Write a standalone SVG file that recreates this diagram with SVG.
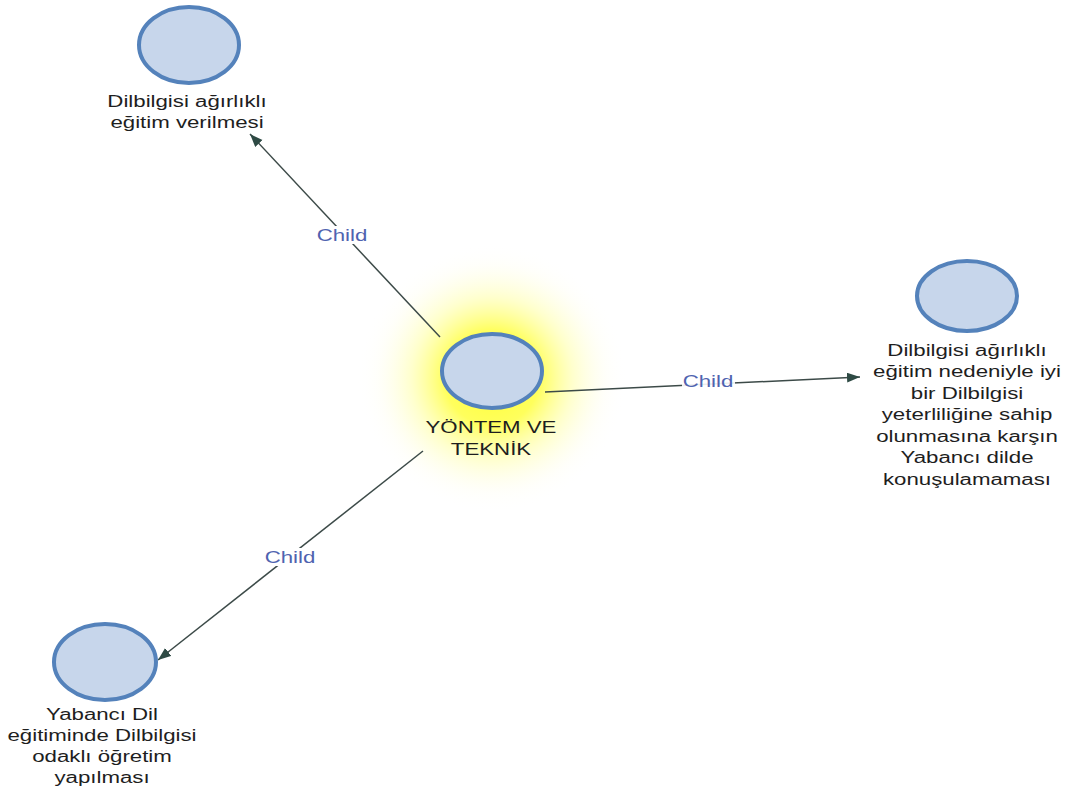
<svg xmlns="http://www.w3.org/2000/svg" width="1068" height="792" viewBox="0 0 1068 792">
<style>
.node{fill:#c7d6eb;stroke:#5482bb;stroke-width:4}
.lbl{font-family:"Liberation Sans",Arial,sans-serif;font-size:16px;fill:#1e1e1e;text-anchor:middle}
.elbl{font-family:"Liberation Sans",Arial,sans-serif;font-size:16px;fill:#4f63b0;text-anchor:middle}
.edge{stroke:#3c4a48;stroke-width:1.5;fill:none}
</style>
<defs>
<radialGradient id="glow" cx="492" cy="378" r="135" gradientUnits="userSpaceOnUse">
<stop offset="0" stop-color="#ffff30" stop-opacity="1"/>
<stop offset="0.35" stop-color="#ffff40" stop-opacity="0.85"/>
<stop offset="0.6" stop-color="#ffff90" stop-opacity="0.45"/>
<stop offset="0.85" stop-color="#fffde0" stop-opacity="0.15"/>
<stop offset="1" stop-color="#ffffff" stop-opacity="0"/>
</radialGradient>
<marker id="arr" markerUnits="userSpaceOnUse" markerWidth="14" markerHeight="12" refX="13" refY="5" orient="auto">
<path d="M0,0 L13,5 L0,10 Z" fill="#2e4a44"/>
</marker>
</defs>
<rect width="1068" height="792" fill="#ffffff"/>
<circle cx="492" cy="378" r="135" fill="url(#glow)"/>
<g id="connectors">
<line class="edge" x1="440" y1="337" x2="250" y2="134" marker-end="url(#arr)"/>
<line class="edge" x1="545" y1="392" x2="860" y2="377" marker-end="url(#arr)"/>
<line class="edge" x1="423" y1="451" x2="158" y2="660" marker-end="url(#arr)"/>
<rect x="316" y="226" width="52" height="18" fill="#ffffff"/>
<text class="elbl" transform="translate(342 0) scale(1.39 1)" x="0" y="241">Child</text>
<rect x="682" y="373" width="53" height="17" fill="#ffffff" fill-opacity="0.9"/>
<text class="elbl" transform="translate(708 0) scale(1.39 1)" x="0" y="387">Child</text>
<rect x="264" y="548" width="52" height="18" fill="#ffffff"/>
<text class="elbl" transform="translate(290 0) scale(1.39 1)" x="0" y="563">Child</text>
</g>
<g id="node-top">
<ellipse class="node" cx="189" cy="45" rx="50" ry="38"/>
<text class="lbl" transform="translate(187 0) scale(1.39 1)" x="0" y="107">Dilbilgisi ağırlıklı</text>
<text class="lbl" transform="translate(187 0) scale(1.39 1)" x="0" y="128">eğitim verilmesi</text>
</g>
<g id="node-center">
<ellipse class="node" cx="492" cy="371" rx="50" ry="37"/>
<text class="lbl" transform="translate(491 0) scale(1.39 1)" x="0" y="433">YÖNTEM VE</text>
<text class="lbl" transform="translate(491 0) scale(1.39 1)" x="0" y="455">TEKNİK</text>
</g>
<g id="node-right">
<ellipse class="node" cx="967" cy="296" rx="50" ry="35"/>
<text class="lbl" transform="translate(967 0) scale(1.39 1)" x="0" y="356">Dilbilgisi ağırlıklı</text>
<text class="lbl" transform="translate(967 0) scale(1.39 1)" x="0" y="377.5">eğitim nedeniyle iyi</text>
<text class="lbl" transform="translate(967 0) scale(1.39 1)" x="0" y="399">bir Dilbilgisi</text>
<text class="lbl" transform="translate(967 0) scale(1.39 1)" x="0" y="420.5">yeterliliğine sahip</text>
<text class="lbl" transform="translate(967 0) scale(1.39 1)" x="0" y="442">olunmasına karşın</text>
<text class="lbl" transform="translate(967 0) scale(1.39 1)" x="0" y="463.5">Yabancı dilde</text>
<text class="lbl" transform="translate(967 0) scale(1.39 1)" x="0" y="485">konuşulamaması</text>
</g>
<g id="node-bottom">
<ellipse class="node" cx="105" cy="662" rx="51" ry="38"/>
<text class="lbl" transform="translate(102 0) scale(1.39 1)" x="0" y="720">Yabancı Dil</text>
<text class="lbl" transform="translate(102 0) scale(1.39 1)" x="0" y="741">eğitiminde Dilbilgisi</text>
<text class="lbl" transform="translate(102 0) scale(1.39 1)" x="0" y="762">odaklı öğretim</text>
<text class="lbl" transform="translate(102 0) scale(1.39 1)" x="0" y="783">yapılması</text>
</g>
</svg>
